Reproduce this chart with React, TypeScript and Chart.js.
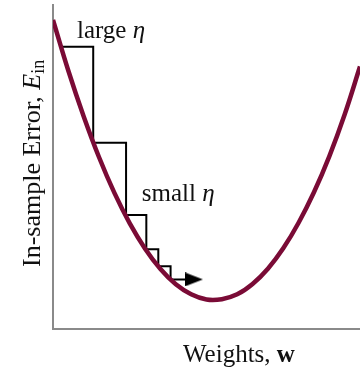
import React, { useEffect, useRef } from 'react';
import { Chart, registerables } from 'chart.js';

Chart.register(...registerables);

// Error curve E_in(w)
const curveW = [0, 0.5, 1, 1.5, 2, 2.5, 3, 3.5, 4, 4.5, 5, 5.5, 6, 6.5, 7, 7.5, 8, 8.5, 9, 9.5, 10];
const curveE = [9.54, 7.97, 6.56, 5.3, 4.2, 3.26, 2.48, 1.85, 1.38, 1.07, 0.91, 0.92, 1.07, 1.39, 1.86, 2.49, 3.28, 4.22, 5.33, 6.62, 8.1];

// Gradient-descent steps (stepped path)
const stepW = [0.28, 1.31, 2.38, 3.04, 3.43, 3.83, 4.3];
const stepE = [8.71, 5.75, 3.52, 2.46, 1.94, 1.53, 1.53];

// Arrow head at end of the steps
const arrowW = [4.59];
const arrowE = [1.53];

// Annotations (left/baseline anchored, data coordinates)
const annotationMain = ['large ', 'small '];
const annotationSym = ['η', 'η'];
const annotationW = [0.78, 2.89];
const annotationE = [8.98, 3.96];

// Axis titles
const xTitleMain = 'Weights, ';
const xTitleBold = 'w';
const yTitleMain = 'In-sample Error, ';
const yTitleSym = 'E';
const yTitleSub = 'in';

const CURVE_COLOR = '#7a0b36';
const AXIS_COLOR = '#8a8a8a';
const TEXT_COLOR = '#111111';
const FAMILY = '"Liberation Serif", "Times New Roman", serif';

type Run = { text: string; font: string; dy?: number };

function drawRuns(ctx: CanvasRenderingContext2D, runs: Run[], x: number, y: number) {
  let cx = x;
  for (const r of runs) {
    ctx.font = r.font;
    ctx.fillText(r.text, cx, y + (r.dy || 0));
    cx += ctx.measureText(r.text).width;
  }
}

const textPlugin = {
  id: 'textPlugin',
  afterDatasetsDraw(chart: any) {
    const { ctx, chartArea, scales } = chart;
    const xs = scales.x;
    const ys = scales.y;
    ctx.save();
    ctx.fillStyle = TEXT_COLOR;
    ctx.textAlign = 'left';
    ctx.textBaseline = 'alphabetic';
    for (let i = 0; i < annotationMain.length; i++) {
      const px = xs.getPixelForValue(annotationW[i]);
      const py = ys.getPixelForValue(annotationE[i]);
      drawRuns(ctx, [
        { text: annotationMain[i], font: `25px ${FAMILY}` },
        { text: annotationSym[i], font: `italic 25px ${FAMILY}` },
      ], px, py);
    }
    // x title
    drawRuns(ctx, [
      { text: xTitleMain, font: `25px ${FAMILY}` },
      { text: xTitleBold, font: `bold 25px ${FAMILY}` },
    ], chartArea.left + 130, chartArea.bottom + 32.5);
    // y title
    ctx.translate(chartArea.left - 13.5, chartArea.bottom - 62);
    ctx.rotate(-Math.PI / 2);
    drawRuns(ctx, [
      { text: yTitleMain, font: `26px ${FAMILY}` },
      { text: yTitleSym, font: `italic 26px ${FAMILY}` },
      { text: yTitleSub, font: `18px ${FAMILY}`, dy: 4 },
    ], 0, 0);
    ctx.restore();
  },
};

function makeArrow(): HTMLCanvasElement {
  const c = document.createElement('canvas');
  c.width = 18;
  c.height = 14;
  const g = c.getContext('2d')!;
  g.fillStyle = '#000';
  g.beginPath();
  g.moveTo(0, 0);
  g.lineTo(18, 7);
  g.lineTo(0, 14);
  g.closePath();
  g.fill();
  return c;
}

export default function App() {
  const ref = useRef<HTMLCanvasElement | null>(null);
  useEffect(() => {
    if (!ref.current) return;
    const chart = new Chart(ref.current, {
      type: 'line',
      data: {
        datasets: [
          {
            data: curveW.map((w, i) => ({ x: w, y: curveE[i] })),
            borderColor: CURVE_COLOR,
            borderWidth: 4.5,
            pointRadius: 0,
            tension: 0.4,
            fill: false,
          },
          {
            data: stepW.map((w, i) => ({ x: w, y: stepE[i] })),
            borderColor: '#000',
            borderWidth: 2,
            pointRadius: 0,
            stepped: 'before',
            fill: false,
          },
          {
            data: arrowW.map((w, i) => ({ x: w, y: arrowE[i] })),
            showLine: false,
            pointStyle: makeArrow() as any,
            pointRadius: 9,
            borderWidth: 0,
          },
        ],
      },
      options: {
        responsive: false,
        animation: false,
        events: [],
        layout: { autoPadding: false, padding: { left: 53, right: 0, top: 5, bottom: 41 } },
        plugins: { legend: { display: false }, tooltip: { enabled: false } },
        scales: {
          x: {
            type: 'linear',
            min: 0,
            max: 10,
            ticks: { display: false },
            grid: { display: false, drawTicks: false },
            border: { display: true, color: AXIS_COLOR, width: 2 },
          },
          y: {
            type: 'linear',
            min: 0,
            max: 10,
            ticks: { display: false },
            grid: { display: false, drawTicks: false },
            border: { display: true, color: AXIS_COLOR, width: 2 },
          },
        },
      },
      plugins: [textPlugin],
    });
    return () => chart.destroy();
  }, []);
  return (
    <div style={{ position: 'fixed', left: 0, top: 0, width: 360, height: 370, background: '#fff' }}>
      <canvas ref={ref} width={360} height={370} style={{ display: 'block' }} />
    </div>
  );
}
